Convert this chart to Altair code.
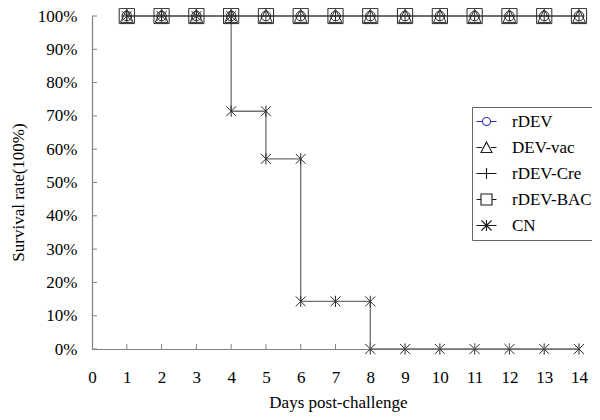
import altair as alt
import pandas as pd

# ---- data ----
series = ["rDEV", "DEV-vac", "rDEV-Cre", "rDEV-BAC", "CN"]
days = [1, 2, 3, 4, 5, 6, 7, 8, 9, 10, 11, 12, 13, 14]
rdev = [100, 100, 100, 100, 100, 100, 100, 100, 100, 100, 100, 100, 100, 100]
dev_vac = [100, 100, 100, 100, 100, 100, 100, 100, 100, 100, 100, 100, 100, 100]
rdev_cre = [100, 100, 100, 100, 100, 100, 100, 100, 100, 100, 100, 100, 100, 100]
rdev_bac = [100, 100, 100, 100, 100, 100, 100, 100, 100, 100, 100, 100, 100, 100]
cn_days = [1, 2, 3, 4, 4, 5, 5, 6, 6, 7, 8, 8, 9, 10, 11, 12, 13, 14]
cn_surv = [100, 100, 100, 100, 71.4, 71.4, 57.1, 57.1, 14.3, 14.3, 14.3, 0, 0, 0, 0, 0, 0, 0]

x_ticks = [0, 1, 2, 3, 4, 5, 6, 7, 8, 9, 10, 11, 12, 13, 14]
y_ticks = [0, 10, 20, 30, 40, 50, 60, 70, 80, 90, 100]

rows = []
for name, xs, ys in [("rDEV", days, rdev), ("DEV-vac", days, dev_vac),
                     ("rDEV-Cre", days, rdev_cre), ("rDEV-BAC", days, rdev_bac),
                     ("CN", cn_days, cn_surv)]:
    for i, (d, s) in enumerate(zip(xs, ys)):
        rows.append({"series": name, "day": d, "surv": s, "idx": i})
df = pd.DataFrame(rows)

# marker shapes on the plot (unit-size SVG paths)
plot_paths = [
    "M-0.6,0A0.6,0.6 0 1,0 0.6,0A0.6,0.6 0 1,0 -0.6,0Z",
    "M0,-0.85L0.8,0.8L-0.8,0.8Z",
    "M-0.65,0H0.65M0,-0.65V0.65",
    "M-0.95,-0.95H0.95V0.95H-0.95Z",
    "M-0.62,-0.62L0.62,0.62M-0.62,0.62L0.62,-0.62M0,-0.7V0.7",
]
# legend symbols: short line with the marker on it
legend_paths = [
    "M-2,0H-0.8M0.8,0H2M-0.8,0A0.8,0.8 0 1,0 0.8,0A0.8,0.8 0 1,0 -0.8,0Z",
    "M-2,0H-0.9M0.9,0H2M0,-1.1L1.1,1L-1.1,1Z",
    "M-2,0H2M0,-1.1V1.1",
    "M-2,0H-1.1M1.1,0H2M-1.1,-1.1H1.1V1.1H-1.1Z",
    "M-2,0H2M-1,-1L1,1M-1,1L1,-1M0,-1.1V1.1",
]

FONT = "Liberation Serif"

x_axis = alt.Axis(values=x_ticks, title="Days post-challenge", grid=False,
                  ticks=False, tickSize=0, labelPadding=20,
                  labelOverlap=False, labelFlush=False,
                  domainColor="#808080", domainWidth=1.2,
                  titleY=53, titleBaseline="middle", titleX=246)
y_axis = alt.Axis(values=y_ticks, title="Survival rate(100%)", grid=False,
                  ticks=False, tickSize=0, labelPadding=15,
                  labelOverlap=False, labelFlush=False,
                  labelExpr="datum.value + '%'",
                  domainColor="#808080", domainWidth=1.2,
                  titleX=-74, titleY=176, titleAlign="center",
                  titleBaseline="middle")
x_scale = alt.Scale(domain=[0, 14], nice=False, zero=False)
y_scale = alt.Scale(domain=[0, 100], nice=False)

x_enc = alt.X("day:Q", scale=x_scale, axis=x_axis)
y_enc = alt.Y("surv:Q", scale=y_scale, axis=y_axis)

base = alt.Chart(df)

line_blue = base.transform_filter(alt.datum.series == "rDEV").mark_line(
    color="#3a3aa8", strokeWidth=1.2).encode(x=x_enc, y=y_enc, order="idx:Q")
line_gray = base.transform_filter(alt.datum.series != "rDEV").mark_line(
    color="#6e6e6e", strokeWidth=1.3).encode(
    x=x_enc, y=y_enc, detail="series:N", order="idx:Q")

markers = base.mark_point(filled=False, color="#2b2b2b", size=256, strokeWidth=1,
                          opacity=1).encode(
    x=x_enc, y=y_enc,
    shape=alt.Shape("series:N", scale=alt.Scale(domain=series, range=plot_paths),
                    legend=None))

leg = alt.Legend(title=None, orient="none", legendX=380, legendY=91,
                 direction="vertical", symbolSize=100,
                 symbolStrokeWidth=1.1, symbolOpacity=1,
                 symbolStrokeColor={"expr": "datum.value === 'rDEV' ? '#2a2ab0' : '#1a1a1a'"},
                 labelFont=FONT, labelFontSize=17,
                 labelColor="black", labelOffset=17,
                 rowPadding=8, padding=6,
                 strokeColor="#666666", fillColor="white")

# legend-only layer: draws nothing, its scale has an explicit domain
legend_layer = base.transform_filter("false").mark_point(
    filled=False, opacity=1, size=100, strokeWidth=1, color="#1a1a1a").encode(
    x=x_enc, y=y_enc,
    shape=alt.Shape("series:N", scale=alt.Scale(domain=series, range=legend_paths),
                    legend=leg),
)

# inward tick marks at the axis values
xt_df = pd.DataFrame({"day": x_ticks[1:]})
x_tick_marks = alt.Chart(xt_df).mark_rule(color="#808080", strokeWidth=1).encode(
    x=x_enc, y=alt.value(333), y2=alt.value(328))
yt_df = pd.DataFrame({"surv": y_ticks})
y_tick_marks = alt.Chart(yt_df).mark_rule(color="#808080", strokeWidth=1).encode(
    y=y_enc, x=alt.value(0), x2=alt.value(5))

chart = alt.layer(
    line_blue, line_gray, markers, legend_layer, x_tick_marks, y_tick_marks
).resolve_scale(shape="independent").properties(
    width=487, height=333,
    autosize=alt.AutoSizeParams(type="none"),
    padding={"left": 84, "top": 8, "right": 13, "bottom": 63},
    background="white",
).configure_view(stroke=None).configure_axis(
    labelFont=FONT, labelFontSize=17, labelColor="black", labelOverlap=False,
    titleFont=FONT, titleFontSize=17, titleColor="black", titleFontWeight="normal",
)

chart.save("out.html", embed_options={"renderer": "svg", "actions": False})
